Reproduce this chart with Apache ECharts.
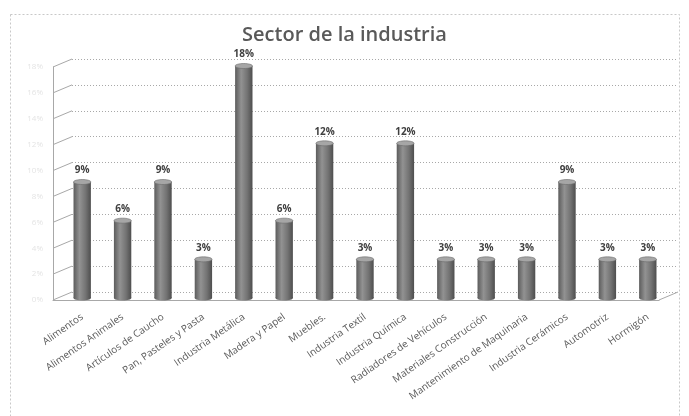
<!DOCTYPE html>
<html><head><meta charset="utf-8">
<script src="https://cdn.jsdelivr.net/npm/echarts@6/dist/echarts.min.js"></script>
<style>html,body{margin:0;padding:0;background:#fff}#c{width:689px;height:416px}</style>
</head><body><div id="c"></div>
<script>
const titleText = 'Sector de la industria';
const categories = ['Alimentos','Alimentos Animales','Artículos de Caucho','Pan, Pasteles y Pasta','Industria Metálica','Madera y Papel','Muebles.','Industria Textil','Industria Química','Radiadores de Vehículos','Materiales Construcción','Mantenimiento de Maquinaria','Industria Cerámicos','Automotriz','Hormigón'];
const values = [9,6,9,3,18,6,12,3,12,3,3,3,9,3,3];
const yTicks = [0,2,4,6,8,10,12,14,16,18];
const yMin = 0, yMax = 18, yInterval = 2;

const chart = echarts.init(document.getElementById('c'));
const font = 'Open Sans';
const DX = 19, DY = -8;

function cylinder(params, api) {
  const i = api.value(0), v = api.value(1);
  const base = api.coord([i, 0]);
  const top = api.coord([i, v]);
  const w = api.size([1, 0])[0] * 0.43;
  const ry = 2.5;
  const grad = new echarts.graphic.LinearGradient(0, 0, 1, 0, [
    {offset: 0, color: '#5c5c5c'}, {offset: 0.35, color: '#929292'}, {offset: 0.7, color: '#737373'}, {offset: 1, color: '#4e4e4e'}
  ]);
  return {type: 'group', children: [
    {type: 'ellipse', shape: {cx: base[0], cy: base[1], rx: w/2, ry: ry}, style: {fill: grad}},
    {type: 'rect', shape: {x: base[0]-w/2, y: top[1], width: w, height: base[1]-top[1]}, style: {fill: grad}},
    {type: 'ellipse', shape: {cx: top[0], cy: top[1], rx: w/2, ry: ry}, style: {fill: '#a6a6a6', stroke: '#6a6a6a', lineWidth: 0.6}},
    {type: 'text', style: {text: v + '%', x: top[0], y: top[1]-ry-4, textAlign: 'center', textVerticalAlign: 'bottom', fill: '#404040', font: 'bold 10px "' + font + '"'}}
  ]};
}

function sideLines(params, api) {
  const v = api.value(1);
  const p = api.coord([0, v]);
  const bw = api.size([1, 0])[0];
  const x = p[0] - bw/2;
  return {type: 'line', shape: {x1: x, y1: p[1], x2: x+DX, y2: p[1]+DY}, style: {stroke: '#a8a8a8', lineWidth: 1}};
}
function floorRight(params, api) {
  const p = api.coord([api.value(0), 0]);
  const bw = api.size([1, 0])[0];
  const x = p[0] + bw/2;
  return {type: 'line', shape: {x1: x, y1: p[1], x2: x+DX, y2: p[1]+DY}, style: {stroke: '#a8a8a8', lineWidth: 1}};
}

chart.setOption({
  animation: false,
  backgroundColor: '#fff',
  title: {text: titleText, left: 'center', top: 20, textStyle: {fontFamily: font, fontSize: 20, fontWeight: 600, color: '#595959'}},
  graphic: [{type: 'rect', shape: {x: 10.5, y: 14.5, width: 669, height: 420}, style: {fill: 'none', stroke: '#c8c8c8', lineDash: [2, 2], lineWidth: 1}, silent: true}],
  grid: [
    {left: 72, right: 11, top: 59, bottom: 124},
    {left: 53, right: 30, top: 67, bottom: 116},
    {left: 62, right: 21, top: 66, bottom: 118}
  ],
  xAxis: [
    {gridIndex: 0, type: 'category', data: categories, axisLine: {show: false}, axisTick: {show: false}, axisLabel: {show: false}},
    {gridIndex: 1, type: 'category', data: categories, axisLine: {show: true, lineStyle: {color: '#a8a8a8'}}, axisTick: {show: false}, axisLabel: {show: false}},
    {gridIndex: 2, type: 'category', data: categories, axisLine: {show: false}, axisTick: {show: false},
      axisLabel: {interval: 0, rotate: 35, margin: 18, fontFamily: font, fontSize: 10, color: '#595959'}}
  ],
  yAxis: [
    {gridIndex: 0, type: 'value', min: yMin, max: yMax, interval: yInterval, axisLine: {show: false}, axisTick: {show: false}, axisLabel: {show: false},
      splitLine: {show: true, lineStyle: {color: '#a8a8a8', type: [1, 2], width: 1}}},
    {gridIndex: 1, type: 'value', min: yMin, max: yMax, interval: yInterval, axisLine: {show: true, lineStyle: {color: '#a8a8a8'}}, axisTick: {show: false},
      axisLabel: {show: true, fontFamily: font, fontSize: 8, color: '#e4e4e4', formatter: v => v + '%', margin: 10}, splitLine: {show: false}},
    {gridIndex: 2, type: 'value', min: yMin, max: yMax, interval: yInterval, show: false}
  ],
  series: [
    {type: 'custom', xAxisIndex: 1, yAxisIndex: 1, renderItem: sideLines, data: yTicks.map(t => [0, t]), silent: true, z: 1},
    {type: 'custom', xAxisIndex: 1, yAxisIndex: 1, renderItem: floorRight, data: [[categories.length - 1, 0]], silent: true, z: 1},
    {type: 'custom', xAxisIndex: 2, yAxisIndex: 2, renderItem: cylinder, data: values.map((v, i) => [i, v]), z: 5}
  ]
});
</script></body></html>
